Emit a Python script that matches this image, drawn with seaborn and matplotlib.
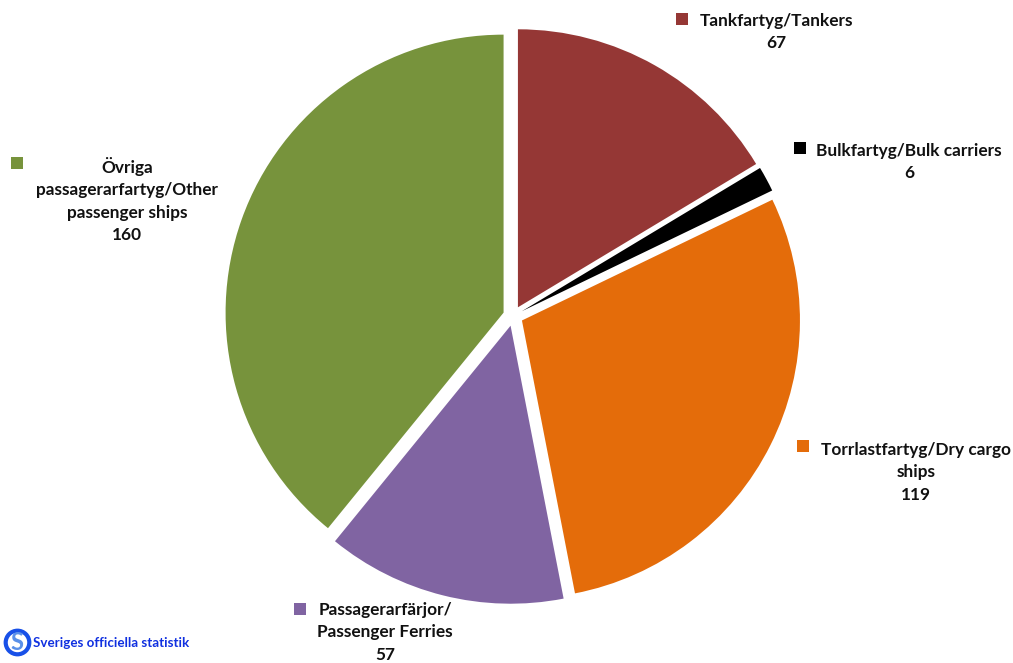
import matplotlib
matplotlib.use("Agg")
import matplotlib.pyplot as plt
import seaborn as sns

categories = ["Tankfartyg/Tankers", "Bulkfartyg/Bulk carriers", "Torrlastfartyg/Dry cargo\nships",
              "Passagerarfärjor/\nPassenger Ferries", "Övriga\npassagerarfartyg/Other\npassenger ships"]
values = [67, 6, 119, 57, 160]
colors = ["#953735", "#000000", "#E46C0A", "#8064A2", "#77933C"]
label_xy = [(776, 32), (909, 162), (916, 472), (385, 632), (127, 200)]
marker_xy = [(682, 19), (800, 148), (803, 446), (300, 609), (17, 163)]

sns.set_theme(style="white")
plt.rcParams['font.family'] = ['Lato', 'DejaVu Sans']
W, H = 1013, 663
fig = plt.figure(figsize=(W/100, H/100), dpi=100)
ax = fig.add_axes([0, 0, 1, 1])
cx, cy, r = 513, H - 316, 278
gap = 10
ax.pie(values, colors=colors, startangle=90, counterclock=False,
       center=(cx, cy), radius=r, explode=[gap]*5, frame=True,
       wedgeprops=dict(linewidth=0))
ax.set_xlim(0, W); ax.set_ylim(0, H); ax.axis('off')

for c, v, (x, y), (mx, my), col in zip(categories, values, label_xy, marker_xy, colors):
    ax.text(x, H - y, f"{c}\n{v}", ha='center', va='center', fontsize=12.4, fontweight='bold',
            color='#111111', linespacing=1.5)
    ax.plot([mx], [H - my], marker='s', ms=8, mew=0, color=col, ls='none')

ax.text(33, H - 643, "Sveriges officiella statistik", fontsize=9.6, fontweight='bold', color='#1030E0',
        va='center', ha='left')
ax.plot([17], [H - 642], marker='o', ms=17, mfc='white', mec='#1850E8', mew=3, ls='none')
ax.text(17, H - 642, "S", fontsize=17, color='#5A90E8', ha='center', va='center', fontweight='bold')
fig.savefig("out.png", dpi=100)
